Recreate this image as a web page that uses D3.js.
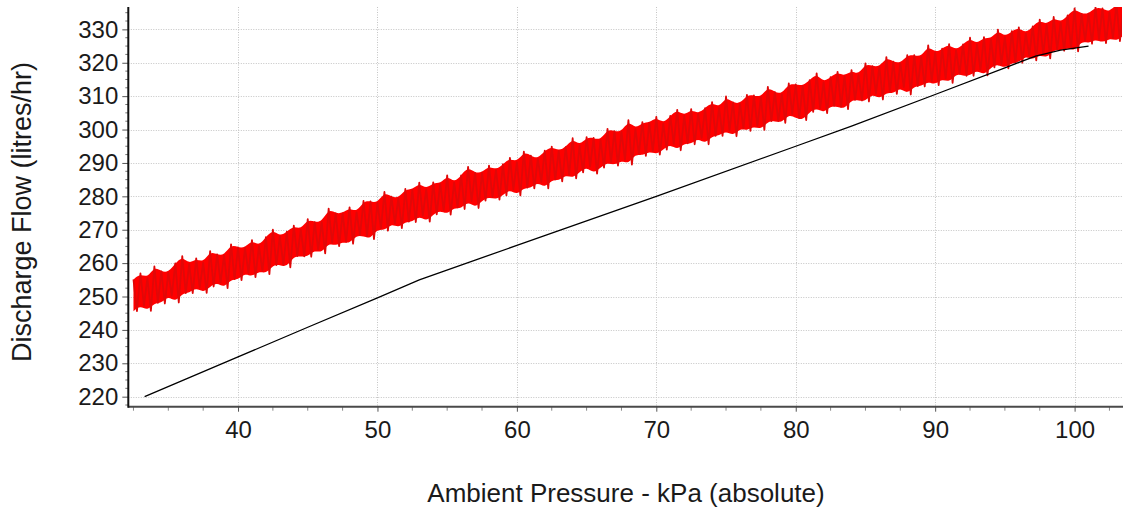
<!DOCTYPE html>
<html><head><meta charset="utf-8">
<script src="https://cdn.jsdelivr.net/npm/d3@7/dist/d3.min.js"></script>
<style>
body{margin:0;background:#fff}
svg{display:block}
text{font-family:"Liberation Sans",Arial,sans-serif;fill:#1a1a1a}
</style>
</head><body>
<svg id="c" width="1123" height="509"></svg>
<script>
// ---------- data ----------
const xTicks = [40, 50, 60, 70, 80, 90, 100];
const yTicks = [220, 230, 240, 250, 260, 270, 280, 290, 300, 310, 320, 330];
const xTitle = "Ambient Pressure - kPa (absolute)";
const yTitle = "Discharge Flow (litres/hr)";

// measured noisy flow band: sample positions every 0.5 kPa from 32.5 to 103.5
const bandStart = 32.5, bandStep = 0.5;
const flowUpper = [255.1,256.9,255.5,259.0,257.5,257.2,259.9,262.1,259.7,261.4,260.1,263.6,262.6,262.3,265.6,264.7,264.6,266.9,265.1,267.8,270.0,268.0,269.4,271.2,270.0,273.2,272.3,272.3,276.3,274.9,274.9,276.7,275.2,278.6,278.5,278.0,281.3,279.9,279.4,282.2,281.9,284.1,282.1,284.2,283.7,286.3,284.1,286.3,288.8,287.0,287.1,289.2,287.9,289.6,291.5,290.2,293.4,292.2,291.2,293.7,294.9,293.6,294.7,297.4,295.2,297.7,297.5,296.8,300.2,299.5,299.3,302.8,300.1,302.2,302.0,303.8,301.8,304.1,305.9,304.1,306.1,304.7,306.4,308.2,306.5,309.9,308.1,307.7,310.4,310.2,309.7,312.8,311.2,310.6,313.8,313.5,313.1,314.8,316.8,314.1,315.7,317.3,315.9,317.8,316.3,319.8,319.0,318.7,321.7,320.3,319.8,322.3,322.3,321.7,325.2,323.0,324.2,325.6,323.7,325.5,327.5,325.5,327.7,327.1,329.9,327.7,329.5,330.6,328.8,330.9,332.9,331.3,333.7,332.0,334.2,336.3,334.6,334.7,336.6,336.3,335.1,337.8,336.6];
const flowLower = [245.6,247.3,245.7,248.1,247.9,250.3,248.2,251.0,251.0,252.7,251.1,253.0,254.2,252.5,255.2,254.9,257.1,255.8,257.7,256.7,259.4,259.5,258.7,262.1,262.0,261.9,264.0,262.9,266.1,265.1,266.4,265.8,268.4,268.0,267.2,270.3,269.7,271.9,270.5,272.4,272.3,274.2,272.4,274.6,275.8,274.5,276.7,276.2,278.6,276.5,278.7,279.8,279.0,280.3,282.1,280.3,282.6,282.4,284.3,282.4,285.1,284.5,286.5,285.4,287.2,288.9,286.8,288.6,290.2,289.2,290.9,289.5,292.8,292.1,293.5,292.5,294.0,295.7,293.8,295.9,295.6,297.5,295.6,298.1,298.1,299.7,298.0,300.4,299.6,301.0,299.9,302.5,302.5,302.0,304.6,303.4,302.8,305.3,306.4,304.9,307.1,306.8,306.1,308.9,308.7,308.4,310.8,309.0,311.2,310.7,312.7,310.5,313.0,312.9,314.5,313.3,315.3,314.0,316.8,316.1,316.1,317.9,316.2,318.6,319.6,318.3,320.0,320.0,322.2,320.7,322.5,321.3,324.0,323.6,324.5,323.4,326.6,325.7,327.1,325.9,327.4,326.5,328.1];

// reference (black) curve
const refPressure = [33.3, 40, 45, 50, 53, 60, 70, 80, 84, 90, 95, 97.2, 99, 101];
const refFlow     = [220, 231.9, 240.8, 249.6, 255, 265.3, 280, 295, 301, 310.5, 318.5, 322, 323.8, 325];

// ---------- layout ----------
const L = 128.3, R = 1122, T = 7, B = 406.7;
const svg = d3.select("#c");
const x = d3.scaleLinear().domain([32.13, 103.4]).range([L, R]);
const y = d3.scaleLinear().domain([217.0, 336.7]).range([B, T]);

svg.append("defs").append("clipPath").attr("id","clip")
  .append("rect").attr("x",L).attr("y",T).attr("width",R-L).attr("height",B-T);

// grid
const grid = svg.append("g").attr("stroke","#c4c4c4").attr("stroke-width",1).attr("stroke-dasharray","1,1.5");
grid.selectAll(".gx").data(xTicks).join("line")
  .attr("x1",d=>Math.round(x(d))+0.5).attr("x2",d=>Math.round(x(d))+0.5).attr("y1",T).attr("y2",B);
grid.selectAll(".gy").data(yTicks).join("line")
  .attr("x1",L).attr("x2",R).attr("y1",d=>Math.round(y(d))+0.5).attr("y2",d=>Math.round(y(d))+0.5);

// band: solid core (smoothed envelope) + oscillating trace through the measured extremes
const bandData = flowUpper.map((u,i)=>({p: bandStart + i*bandStep, u, l: flowLower[i]}));
const plot = svg.append("g").attr("clip-path","url(#clip)");
plot.append("path").datum(bandData)
  .attr("d", d3.area().curve(d3.curveBasis).x(d=>x(d.p)).y0(d=>y(d.l)).y1(d=>y(d.u)))
  .attr("fill","#ff0000");
const trace = bandData.flatMap(d => [[d.p, d.u], [d.p + bandStep/2, d.l]]);
plot.append("path").datum(trace)
  .attr("d", d3.line().x(d=>x(d[0])).y(d=>y(d[1])))
  .attr("fill","none").attr("stroke","#e00808").attr("stroke-width",1.8).attr("stroke-linejoin","round");

// black line
plot.append("path").datum(refPressure.map((p,i)=>[p, refFlow[i]]))
  .attr("d", d3.line().x(d=>x(d[0])).y(d=>y(d[1])))
  .attr("fill","none").attr("stroke","#000").attr("stroke-width",1.3);

// axes
const minorX = d3.range(32.5, 103.5, 2.5).filter(v=>!xTicks.includes(v));
const minorY = d3.range(217.5, 336.7, 2.5).filter(v=>!yTicks.includes(v));

const yAx = svg.append("g").attr("transform",`translate(${L},0)`)
  .call(d3.axisLeft(y).tickValues(yTicks).tickSize(6).tickPadding(4).tickFormat(d3.format("d")));
yAx.select(".domain").remove();
yAx.selectAll("line").attr("stroke","#555");
yAx.selectAll("text").attr("font-size",24).attr("fill","#1a1a1a");
svg.append("g").attr("transform",`translate(${L},0)`)
  .selectAll("line").data(minorY).join("line")
  .attr("x1",-3).attr("x2",0).attr("y1",d=>y(d)).attr("y2",d=>y(d)).attr("stroke","#777");

const xAx = svg.append("g").attr("transform",`translate(0,${B})`)
  .call(d3.axisBottom(x).tickValues(xTicks).tickSize(5).tickFormat(d3.format("d")));
xAx.select(".domain").remove();
xAx.selectAll("line").attr("stroke","#555");
xAx.selectAll("text").attr("font-size",24).attr("fill","#1a1a1a").attr("y",31).attr("dy",0);
svg.append("g").attr("transform",`translate(0,${B})`)
  .selectAll("line").data(minorX).join("line")
  .attr("x1",d=>x(d)).attr("x2",d=>x(d)).attr("y1",0).attr("y2",4).attr("stroke","#888");

// axis lines
svg.append("line").attr("x1",L).attr("x2",R+1).attr("y1",B).attr("y2",B).attr("stroke","#4a4a4a").attr("stroke-width",2);
svg.append("line").attr("x1",L).attr("x2",L).attr("y1",T).attr("y2",B+1).attr("stroke","#111").attr("stroke-width",2);

// titles
svg.append("text").attr("x",626).attr("y",502).attr("text-anchor","middle").attr("font-size",26).text(xTitle);
svg.append("text").attr("transform","translate(31,212) rotate(-90)").attr("text-anchor","middle").attr("font-size",27).text(yTitle);
</script>
</body></html>
